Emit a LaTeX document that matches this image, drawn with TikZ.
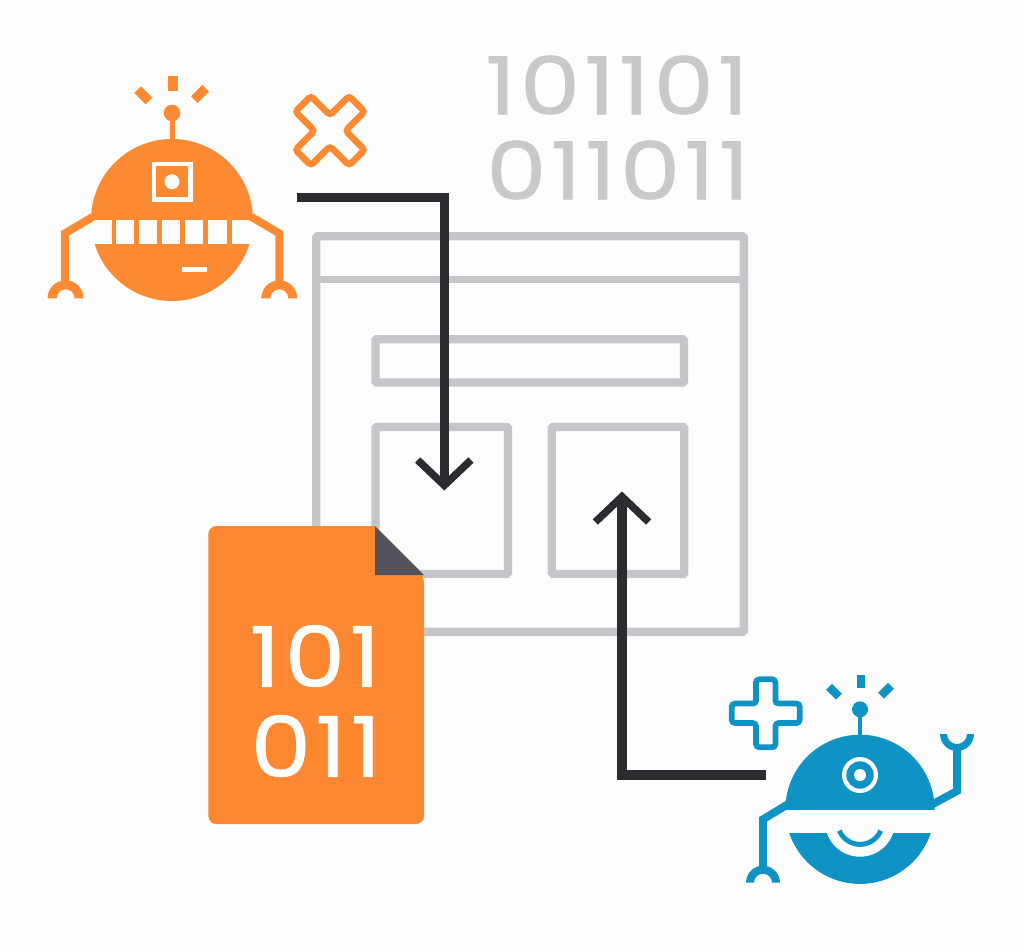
\documentclass[tikz,border=0pt]{standalone}
\usepackage{fontspec}
\setmainfont{Poppins}
\newfontfamily\bigdigits[FakeStretch=1.2,LetterSpace=5,FakeBold=0.8]{Poppins}
\newfontfamily\docdigits[FakeStretch=1.15,LetterSpace=5,FakeBold=0.8]{Poppins}
\usetikzlibrary{arrows.meta}
\definecolor{bgc}{HTML}{FDFDFD}
\definecolor{orangeR}{HTML}{FB8A33}
\definecolor{orangeD}{HTML}{FE8731}
\definecolor{blueR}{HTML}{0F93C4}
\definecolor{greyL}{HTML}{C6C5CA}
\definecolor{greyT}{HTML}{C9C9CB}
\definecolor{darkL}{HTML}{2B2B30}
\definecolor{foldc}{HTML}{53535D}
\tikzset{
  framebox/.style={draw=greyL,line width=6.2pt,inner sep=0pt,outer sep=0pt,rectangle,rounded corners=1pt},
  flow/.style={draw=darkL,line width=7pt,-{Straight Barb[length=19pt,width=40pt,line width=5.6pt]},line join=miter},
  digits/.style={inner sep=0pt,outer sep=0pt,anchor=center},
  limb/.style={line width=5.9pt,line join=miter},
}
\begin{document}
\begin{tikzpicture}[x=0.75pt,y=-0.75pt]
\useasboundingbox (0,0) rectangle (1024,950);
\fill[bgc] (0,0) rectangle (1024,950);
% wireframe
\node[framebox,minimum width=320.8pt,minimum height=296.8pt] (win) at (530,434) {};
\coordinate (barL) at (win.west |- 0,279.7);
\coordinate (barR) at (win.east |- 0,279.7);
\draw[greyL,line width=5.6pt] (barL) -- (barR);
\node[framebox,minimum width=231.3pt,minimum height=32.5pt] (search) at (529.7,360.9) {};
\node[framebox,minimum width=99.3pt,minimum height=110.25pt] (boxA) at (441.7,500.4) {};
\node[framebox,minimum width=99.5pt,minimum height=110.25pt] (boxB) at (618,500.4) {};
% binary text
\node[digits,text=greyT,font=\bigdigits\fontsize{60}{60}\selectfont] (bin1) at (617,85) {101101};
\node[digits,text=greyT,font=\bigdigits\fontsize{60}{60}\selectfont] (bin2) at (618,170) {011011};
% arrows
\coordinate (xStart) at (297,197.5);
\coordinate (xBend) at (444.3,197.5);
\coordinate (xEnd) at (444.3,490.5);
\draw[flow] (xStart) -- (xBend) -- (xEnd);
\coordinate (pStart) at (766,775);
\coordinate (pBend) at (622,775);
\coordinate (pEnd) at (622,491.5);
\draw[flow] (pStart) -- (pBend) -- (pEnd);
% document
\fill[orangeD,rounded corners=6pt] (375,526) -- (208.3,526) -- (208.3,824) -- (424,824) -- (424,575) [sharp corners] -- cycle;
\fill[foldc] (375,526) -- (375,575) -- (424,575) -- cycle;
\node[digits,text=white,font=\docdigits\fontsize{63}{63}\selectfont] (doc1) at (315,656) {101};
\node[digits,text=white,font=\docdigits\fontsize{63}{63}\selectfont] (doc2) at (316,746) {011};
% orange robot
\begin{scope}[orangeR]
\fill (172,220) circle [radius=81];
\fill[bgc] (85,220) rectangle (260,244.3);
\begin{scope}
\clip (172,220) circle [radius=81];
\foreach \a/\b in {111.7/116,134/139,157.3/162,180.3/185,203.3/208.3,226.7/231.7}
  \fill[orangeR] (\a,220) rectangle (\b,244.3);
\end{scope}
\draw[bgc,line width=3.2pt] (154.2,163.9) rectangle (190.5,199.5);
\fill[bgc] (172,181.7) circle [radius=7.5];
\fill[bgc] (181.7,267) rectangle (207.3,271.7);
\draw[line width=3.75pt] (172,140) -- (172,113);
\fill (172,113) circle [radius=8.3];
\fill (168.3,76) rectangle (177.7,91);
\fill[rotate around={-45:(143.3,95.3)}] (135.3,90.6) rectangle (151.3,100);
\fill[rotate around={45:(200,94)}] (192,89.3) rectangle (208,98.7);
\draw[limb] (93,216.7) -- (65,233.3) -- (65,285);
\draw[limb] (251,216.7) -- (279.3,233.3) -- (279.3,285);
\fill (47.5,298.3) arc [start angle=180,end angle=360,radius=18] -- (74.7,298.3) arc [start angle=360,end angle=180,radius=9] -- cycle;
\fill (261.3,298.3) arc [start angle=180,end angle=360,radius=18] -- (288.3,298.3) arc [start angle=360,end angle=180,radius=9] -- cycle;
\draw[line width=4.9pt,rounded corners=2.5pt,rotate around={45:(330,130.7)}]
  (319,92.7) -- (341,92.7) -- (341,119.7) -- (368,119.7) -- (368,141.7) -- (341,141.7) -- (341,168.7) -- (319,168.7) -- (319,141.7) -- (292,141.7) -- (292,119.7) -- (319,119.7) -- cycle;
\end{scope}
% blue robot
\begin{scope}[blueR]
\fill (860,809.3) circle [radius=74.6];
\fill[bgc] (780,810) rectangle (940,832.7);
\begin{scope}
\clip (780,832) rectangle (940,890);
\fill[bgc] (860,821.7) circle [radius=35];
\end{scope}
\draw[line width=3.7pt] (860,821.9) ++(157:22.5) arc [start angle=157,end angle=23,radius=22.5];
\fill[bgc] (860,775) circle [radius=18];
\fill (860,775) circle [radius=13.7];
\fill[bgc] (860,775) circle [radius=6];
\draw[line width=3.7pt] (860,737) -- (860,709.3);
\fill (860,709.3) circle [radius=8];
\fill (857,675) rectangle (865,688.3);
\fill[rotate around={-45:(834,691.7)}] (827,687.5) rectangle (841,695.9);
\fill[rotate around={45:(886,690.7)}] (879,686.5) rectangle (893,694.9);
\draw[limb] (790,803) -- (763,819.3) -- (763,872);
\draw[limb] (931,805) -- (957,791) -- (957,748);
\fill (746,882.7) arc [start angle=180,end angle=360,radius=17] -- (772,882.7) arc [start angle=360,end angle=180,radius=9] -- cycle;
\fill (940,734) arc [start angle=180,end angle=0,radius=17] -- (967,734) arc [start angle=0,end angle=180,radius=10] -- cycle;
\draw[line width=4.3pt,rounded corners=2.5pt]
  (756,679.3) -- (775.4,679.3) -- (775.4,703.6) -- (799.7,703.6) -- (799.7,723) -- (775.4,723) -- (775.4,747.3) -- (756,747.3) -- (756,723) -- (731.7,723) -- (731.7,703.6) -- (756,703.6) -- cycle;
\end{scope}
\end{tikzpicture}
\end{document}
